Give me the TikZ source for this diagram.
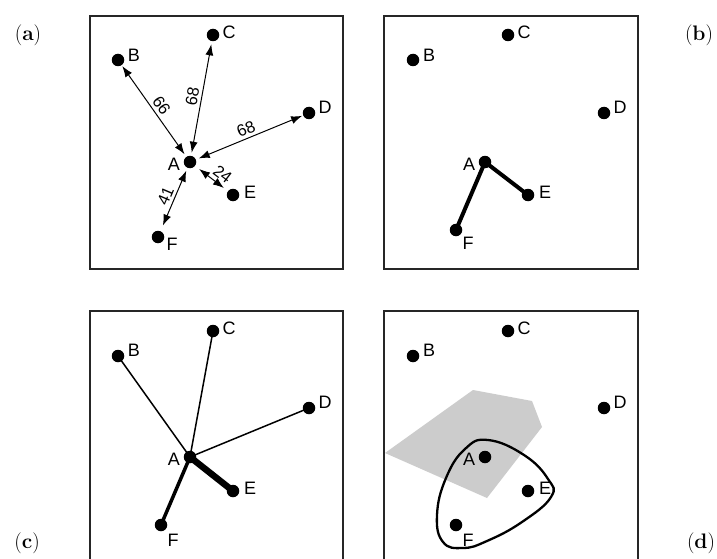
\documentclass[tikz,border=0pt]{standalone}
\usepackage{fontspec}
\setsansfont{Liberation Sans}
\usetikzlibrary{arrows.meta,calc}
\newcommand\placedot[5]{\node[dot] (#1) at (#2) {}; \node[lbl] at ($(#1)+(#3,#4)$) {#5};}
\begin{document}
\begin{tikzpicture}[x=1pt,y=-1pt,
  dot/.style={circle,fill=black,inner sep=0pt,minimum size=12.5pt},
  lbl/.style={font=\sffamily\fontsize{18}{19}\selectfont,inner sep=0pt,text=black},
  num/.style={font=\sffamily\fontsize{16.5}{17}\selectfont,inner sep=1pt,sloped,above=2pt},
  panel/.style={draw=black!85,line width=2pt},
  dist/.style={{Latex[length=11pt,width=8pt]}-{Latex[length=11pt,width=8pt]},line width=1pt},
  tag/.style={font=\fontsize{21}{21}\selectfont,inner sep=0pt}
]
\clip (0,0) rectangle (717,559);
\fill[white] (0,0) rectangle (717,559);

% ---------- panel (a)
\placedot{aA}{190,162}{-16}{2}{A}
\placedot{aB}{118,60}{16}{-5}{B}
\placedot{aC}{213,35}{16}{-3}{C}
\placedot{aD}{309,113}{16}{-6}{D}
\placedot{aE}{233,195}{17}{-3}{E}
\placedot{aF}{158,237}{14}{7}{F}
\draw[dist,shorten <=3pt,shorten >=1pt] (aA) -- node[num]{66} (aB);
\draw[dist,shorten <=3pt,shorten >=3pt] (aA) -- node[num]{68} (aC);
\draw[dist,shorten <=3pt,shorten >=1pt] (aA) -- node[num]{68} (aD);
\draw[dist,shorten <=5pt,shorten >=5pt] (aA) -- node[num,pos=0.65,above=1pt]{24} (aE);
\draw[dist,shorten <=3pt,shorten >=6pt] (aA) -- node[num]{41} (aF);
\draw[panel] (90,16) rectangle (343,269);

% ---------- panel (b)
\placedot{bA}{485,162}{-16}{2}{A}
\placedot{bB}{413,60}{16}{-5}{B}
\placedot{bC}{508,35}{16}{-3}{C}
\placedot{bD}{604,113}{16}{-6}{D}
\placedot{bE}{528,195}{17}{-3}{E}
\placedot{bF}{456,230}{12}{13}{F}
\draw[line width=4pt] (bA.center) -- (bE.center);
\draw[line width=4pt] (bA.center) -- (bF.center);
\draw[panel] (384,16) rectangle (638,269);

% ---------- panel (c)
\placedot{cA}{190,457}{-16}{2}{A}
\placedot{cB}{118,356}{16}{-6}{B}
\placedot{cC}{213,331}{16}{-3}{C}
\placedot{cD}{309,408}{16}{-6}{D}
\placedot{cE}{233,491}{17}{-3}{E}
\placedot{cF}{161,525}{12}{15}{F}
\draw[line width=1.5pt] (cA.center) -- (cB.center);
\draw[line width=1.5pt] (cA.center) -- (cC.center);
\draw[line width=1.5pt] (cA.center) -- (cD.center);
\draw[line width=3.5pt] (cA.center) -- (cF.center);
\draw[line width=6.5pt] (cA.center) -- (cE.center);
\draw[panel] (90,311) rectangle (343,590);

% ---------- panel (d)
\fill[black!20] (385,453) -- (473,390) -- (532,401) -- (542,427) -- (487,498) -- cycle;
\draw[line width=2.3pt] plot[smooth cycle,tension=0.75] coordinates
  {(488,440) (524,455) (548,479) (551,497) (522,522) (487,541) (463,548) (443,542) (437,515) (446,478) (465,449)};
\placedot{dA}{485,457}{-16}{2}{A}
\placedot{dB}{413,356}{16}{-6}{B}
\placedot{dC}{508,331}{16}{-3}{C}
\placedot{dD}{604,408}{16}{-6}{D}
\placedot{dE}{528,491}{17}{-3}{E}
\placedot{dF}{456,525}{12}{15}{F}
\draw[panel] (384,311) rectangle (638,590);

% ---------- tags
\node[tag] (ta) at (28,35) {(\textbf{a})};
\node[tag] (tb) at (699,35) {(\textbf{b})};
\node[tag] (tc) at (27,543) {(\textbf{c})};
\node[tag] (td) at (701,543) {(\textbf{d})};
\end{tikzpicture}
\end{document}
